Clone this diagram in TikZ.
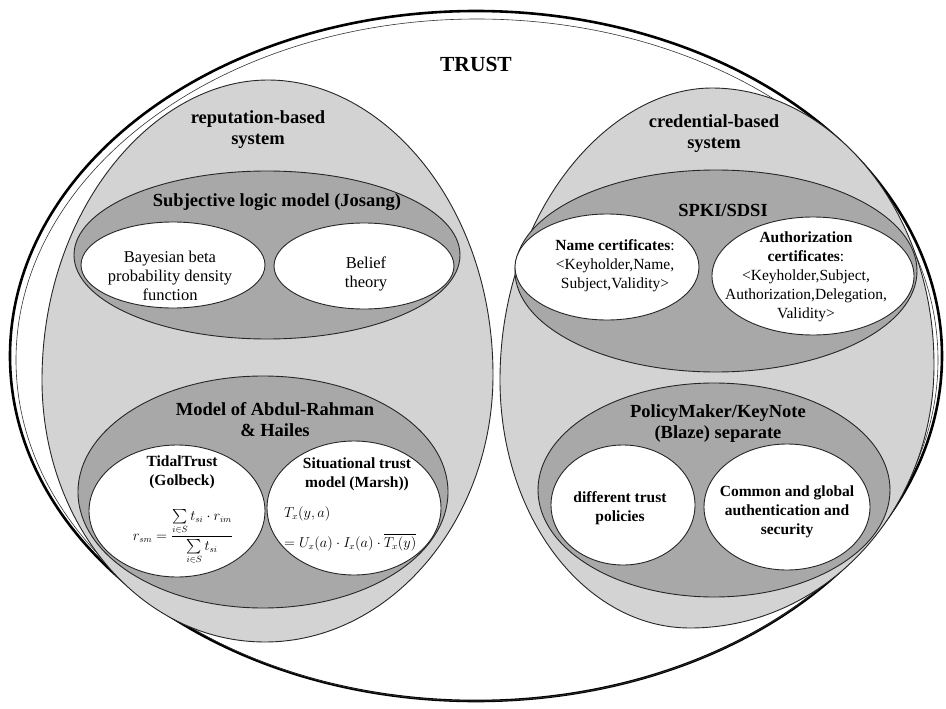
\documentclass[tikz,border=0pt]{standalone}
\usepackage{fontspec}
\usepackage{amsmath}
\setmainfont{Liberation Serif}
\usetikzlibrary{shapes.geometric}
\definecolor{lightg}{RGB}{211,211,211}
\definecolor{midg}{RGB}{168,168,168}
\begin{document}
\begin{tikzpicture}[x=1pt,y=-1pt,
  ell/.style={ellipse, draw=black!85, line width=0.9pt, inner sep=0pt},
  midell/.style={ell, fill=midg},
  whtell/.style={ell, fill=white},
  egg/.style={draw=black!85, line width=0.9pt, fill=lightg},
  head/.style={font=\bfseries\fontsize{18.5}{21}\selectfont, align=center, inner sep=0pt},
  btxt/.style={font=\bfseries\fontsize{15.5}{19}\selectfont, align=center, inner sep=0pt},
  rtxt/.style={font=\fontsize{15.5}{19}\selectfont, align=center, inner sep=0pt},
  ftxt/.style={font=\fontsize{13.5}{17}\selectfont, inner sep=0pt}]
\useasboundingbox (0,0) rectangle (946,709);
\fill[white] (0,0) rectangle (946,709);
% outer TRUST ellipse
\node[ellipse, draw=black, line width=2.6pt, fill=white, minimum width=932pt, minimum height=690pt, inner sep=0pt] (trust) at (476,356) {};
\node[ellipse, draw=black!80, line width=0.6pt, minimum width=922pt, minimum height=682pt, inner sep=0pt] (trustin) at (477,360) {};
% reputation egg
\draw[egg] (268,80) .. controls (383,80) and (493,205) .. (493,375)
  .. controls (493,522) and (389,642) .. (265,642)
  .. controls (141,642) and (42,525) .. (42,380)
  .. controls (42,210) and (153,80) .. (268,80) -- cycle;
% credential egg
\draw[egg] (712,88) .. controls (827,88) and (934,205) .. (934,365)
  .. controls (934,510) and (825,628) .. (690,628)
  .. controls (585,628) and (500,517) .. (500,380)
  .. controls (500,214) and (607,88) .. (712,88) -- cycle;
% mid ellipses
\node[midell, minimum width=386pt, minimum height=168pt] (subj) at (267,255) {};
\node[midell, minimum width=370pt, minimum height=232pt] (abdul) at (263,492) {};
\node[midell, minimum width=402pt, minimum height=202pt] (spki) at (716,271) {};
\node[midell, minimum width=352pt, minimum height=214pt] (policy) at (714,490) {};
% white ellipses
\node[whtell, minimum width=184pt, minimum height=86pt] (bayes) at (173,265) {};
\node[whtell, minimum width=180pt, minimum height=86pt] (belief) at (364,266) {};
\node[whtell, minimum width=176pt, minimum height=132pt] (tidal) at (177,511) {};
\node[whtell, minimum width=174pt, minimum height=134pt] (situ) at (354,508) {};
\node[whtell, minimum width=184pt, minimum height=106pt] (namec) at (607,267) {};
\node[whtell, minimum width=202pt, minimum height=118pt] (authc) at (813,276) {};
\node[whtell, minimum width=144pt, minimum height=120pt] (diff) at (623,505) {};
\node[whtell, minimum width=166pt, minimum height=126pt] (common) at (787,507) {};
% texts
\node[font=\bfseries\fontsize{21.5}{24}\selectfont, inner sep=0pt] (trustlbl) at (476,64) {TRUST};
\node[head] (replbl) at (258,130) {reputation-based\\system};
\node[head] (credlbl) at (714,134) {credential-based\\system};
\node[head] (subjlbl) at (277,202) {Subjective logic model (Josang)};
\node[rtxt, font=\fontsize{16.5}{19}\selectfont] (bayeslbl) at (170,276) {Bayesian beta\\probability density\\function};
\node[rtxt, font=\fontsize{16.5}{19}\selectfont] (belieflbl) at (366,274) {Belief\\theory};
\node[head] (abdullbl) at (275,420) {Model of Abdul-Rahman\\\& Hailes};
\node[btxt] (tidallbl) at (182,472) {TidalTrust\\(Golbeck)};
\node[ftxt] (tidalf) at (183,537) {$r_{sm}=\dfrac{\sum\limits_{i\in S} t_{si}\cdot r_{im}}{\sum\limits_{i\in S} t_{si}}$};
\node[btxt] (situlbl) at (357,474) {Situational trust\\model (Marsh))};
\node[ftxt, anchor=west] (situf1) at (284,514) {$T_x(y,a)$};
\node[ftxt, anchor=west] (situf2) at (284,542) {$=U_x(a)\cdot I_x(a)\cdot\overline{T_x(y)}$};
\node[head] (spkilbl) at (723,210) {SPKI/SDSI};
\node[rtxt] (namelbl) at (615,266) {\textbf{Name certificates}:\\<Keyholder,Name,\\Subject,Validity>};
\node[rtxt] (authlbl) at (806,277) {\textbf{Authorization}\\\textbf{certificates}:\\<Keyholder,Subject,\\Authorization,Delegation,\\Validity>};
\node[head] (policylbl) at (718,424) {PolicyMaker/KeyNote\\(Blaze) separate};
\node[btxt] (difflbl) at (620,508) {different trust\\policies};
\node[btxt] (commonlbl) at (787,512) {Common and global\\authentication and\\security};
\end{tikzpicture}
\end{document}
